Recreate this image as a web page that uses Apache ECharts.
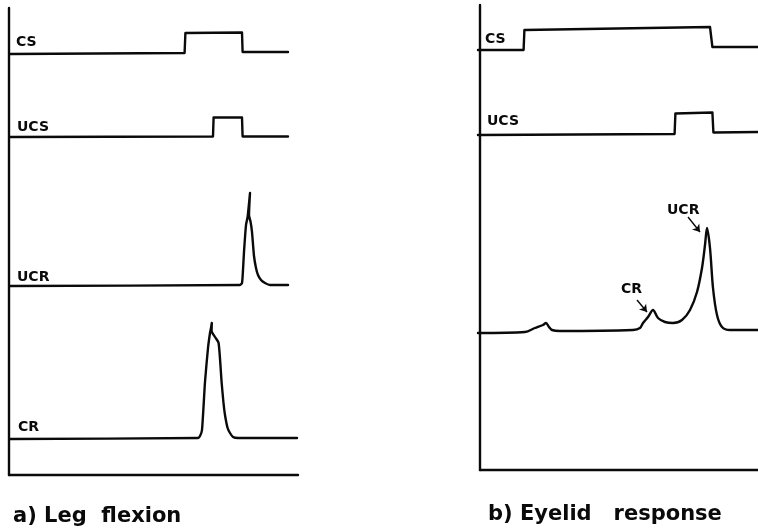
<!DOCTYPE html>
<html><head><meta charset="utf-8">
<script src="https://cdn.jsdelivr.net/npm/echarts@6/dist/echarts.min.js"></script>
<style>html,body{margin:0;padding:0;background:#fff}#c{width:758px;height:531px}</style>
</head><body><div id="c"></div>
<script>
// Time in ms (x), amplitude in arbitrary units above each trace's own baseline (y)
// a) Leg flexion
const legCS  = [[0,-1],[873,0],[877,20],[1160,20.5],[1163,1],[1390,1]];
const legUCS = [[0,0],[1015,0.5],[1018,19.5],[1160,19.5],[1163,0.5],[1390,0.5]];
const legUCR = [[0,0],[1150,1],[1160,3],[1165,16],[1170,34],[1180,61],[1188,69],[1200,93],[1195,71],
                [1203,64],[1210,54],[1220,30],[1230,18],[1240,11],[1255,6],[1275,3],[1300,1],[1390,1]];
const legCR  = [[0,-1],[940,0],[950,2],[960,8],[975,56],[990,90],[1000,105],[1005,110],[1009,115],[1008,107],
                [1025,101],[1043,95],[1058,56],[1067,36],[1075,23],[1088,10],[1100,5],[1115,1],[1140,0],[1435,0]];
// b) Eyelid response
const eyeCS  = [[0,0],[228,0],[232,20],[1160,23],[1170,23],[1172,3],[1400,3]];
const eyeUCS = [[0,-1],[983,0],[987,20.5],[1172,21.5],[1177,1.5],[1400,2]];
const eyeResp = [[0,-2],[235,-1],[285,3],[325,6],[340,8],[355,4],[370,1],[410,0],[775,1],[810,3],[825,8],
                 [850,14],[875,21],[900,13],[935,9],[975,8],[1020,11],[1060,21],[1095,39],[1120,63],[1135,86],
                 [1145,103],[1160,83],[1175,43],[1195,16],[1220,4],[1260,1],[1400,1]];
// annotation arrows (tail -> head) in eyelid-trace coordinates
const arrowUCR = [[1050,114],[1110,99]];
const arrowCR  = [[795,31],[845,19]];
const traceLabelsA = ['CS','UCS','UCR','CR'];
const traceLabelsB = ['CS','UCS'];
const titleA = 'a) Leg  flexion';
const titleB = 'b) Eyelid   response';

const chart = echarts.init(document.getElementById('c'), null, {renderer:'canvas'});
const BLACK = '#0a0a0a';
const hidden = {show:false};
function axisPair(gi, xmax, ymin, ymax, showLines){
  const line = showLines ? {show:true,onZero:false,lineStyle:{color:BLACK,width:2.4}} : hidden;
  return [
    {gridIndex:gi,type:'value',min:0,max:xmax,axisLine:line,axisTick:hidden,axisLabel:hidden,splitLine:hidden},
    {gridIndex:gi,type:'value',min:ymin,max:ymax,axisLine:line,axisTick:hidden,axisLabel:hidden,splitLine:hidden}
  ];
}
// grid layout: [left, top, width, height]
const grids = [
  [9,8,289,467],        // 0 panel a axes
  [10,23,288,30],       // 1 CS
  [10,107,288,30],      // 2 UCS
  [10,186,288,100],     // 3 UCR
  [10,318,288,120],     // 4 CR
  [480,5,278,465],      // 5 panel b axes
  [478,20,280,30],      // 6 CS
  [478,104,280,30],     // 7 UCS
  [478,201,280,130]     // 8 response
];
const xMax = [1,1440,1440,1440,1440,1,1400,1400,1400];
const yMax = [1,30,30,100,120,1,30,30,130];
const xAxes=[], yAxes=[];
grids.forEach((g,i)=>{
  const p = axisPair(i, xMax[i], 0, yMax[i], i===0||i===5);
  xAxes.push(p[0]); yAxes.push(p[1]);
});
function trace(data, gi, extra){
  return Object.assign({type:'line',xAxisIndex:gi,yAxisIndex:gi,data:data,symbol:'none',showSymbol:false,
    clip:false,silent:true,lineStyle:{color:BLACK,width:2.4,cap:'round',join:'round'}}, extra||{});
}
const series = [
  trace(legCS,1), trace(legUCS,2), trace(legUCR,3,{smooth:0.2}), trace(legCR,4,{smooth:0.2}),
  trace(eyeCS,6), trace(eyeUCS,7),
  trace(eyeResp,8,{smooth:0.3,markLine:{silent:true,symbol:['none','arrow'],symbolSize:7,animation:false,
    label:{show:false},lineStyle:{color:BLACK,width:1.4,type:'solid'},
    data:[[{coord:arrowUCR[0]},{coord:arrowUCR[1]}],[{coord:arrowCR[0]},{coord:arrowCR[1]}]]}})
];
const lblFont = 'bold 14px "DejaVu Sans", sans-serif';
const ttlFont = 'bold 21px "DejaVu Sans", sans-serif';
function txt(t, x, y, font){
  return {type:'text',x:x,y:y,silent:true,style:{text:t,font:font,fill:BLACK,align:'left',verticalAlign:'middle'}};
}
const labelPosA = [[16,42],[17,127],[17,277],[18,427]];
const labelPosB = [[485,39],[487,121]];
const graphic = [];
traceLabelsA.forEach((t,i)=>graphic.push(txt(t,labelPosA[i][0],labelPosA[i][1],lblFont)));
traceLabelsB.forEach((t,i)=>graphic.push(txt(t,labelPosB[i][0],labelPosB[i][1],lblFont)));
graphic.push(txt('UCR',667,210,lblFont));
graphic.push(txt('CR',621,289,lblFont));
graphic.push(txt(titleA,13,517,ttlFont));
graphic.push(txt(titleB,488,515,ttlFont));

chart.setOption({
  animation:false,
  backgroundColor:'#fff',
  grid: grids.map(g=>({left:g[0],top:g[1],width:g[2],height:g[3],containLabel:false})),
  xAxis:xAxes, yAxis:yAxes, series:series, graphic:graphic
});
</script></body></html>
